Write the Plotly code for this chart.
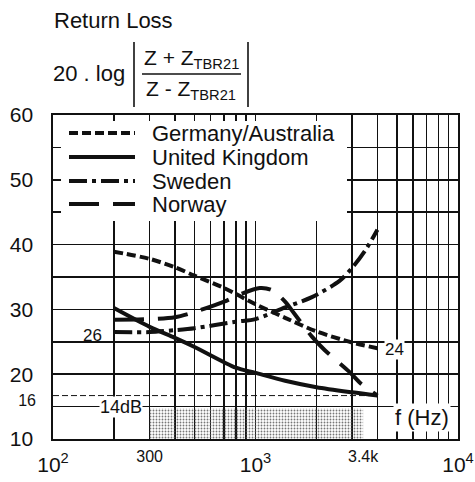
import plotly.graph_objects as go

# ---------------- data ----------------
ger_f = [200, 300, 400, 500, 700, 1000, 1400, 2000, 3000, 4000]
ger_rl = [38.9, 37.8, 36.5, 35.2, 33.3, 30.8, 28.7, 26.6, 24.9, 24.0]

uk_f = [200, 300, 400, 500, 800, 1000, 1400, 2000, 3000, 4000]
uk_rl = [30.2, 27.3, 25.6, 24.2, 21.0, 20.2, 19.0, 18.0, 17.2, 16.7]

swe_f = [200, 300, 400, 500, 800, 1000, 1400, 1900, 2600, 3000, 3500, 4000]
swe_rl = [26.5, 26.5, 26.8, 27.1, 28.1, 28.5, 30.3, 31.9, 34.4, 36.4, 39.2, 42.3]

nor_f = [200, 300, 400, 500, 700, 850, 1050, 1200, 1400, 1550, 1900, 2200, 2900, 3300, 4000]
nor_rl = [28.4, 28.5, 28.8, 29.6, 31.2, 32.4, 33.3, 33.0, 31.2, 29.4, 25.8, 23.7, 20.4, 18.6, 16.7]

band_f = [300, 3400]          # telephone band (shaded)
band_rl = [10, 14.7]
ref_f = [100, 4000]           # dashed reference level
ref_rl = 16.7

x_major = [100, 1000, 10000]
x_major_text = ["10<sup>2</sup>", "10<sup>3</sup>", "10<sup>4</sup>"]
x_minor = [200, 300, 400, 500, 600, 700, 800, 900, 2000, 3000, 4000, 5000, 6000, 7000, 8000, 9000]
x_extra = [300, 3400]
x_extra_text = ["300", "3.4k"]
y_major = [10, 20, 30, 40, 50, 60]
y_minor = [15, 25, 35, 45, 55]
y_extra = [16]
y_extra_text = ["16"]

legend_names = ["Germany/Australia", "United Kingdom", "Sweden", "Norway"]

# ---------------- styles ----------------
FONT = "Liberation Sans, Arial, sans-serif"
BLK = "#111111"
W = 4
dashes = ["9px,4px", "solid", "18px,5px,4px,5px", "30px,14px"]

fig = go.Figure()

# shaded band
fig.add_trace(go.Scatter(
    x=[band_f[0], band_f[1], band_f[1], band_f[0], band_f[0]],
    y=[band_rl[0], band_rl[0], band_rl[1], band_rl[1], band_rl[0]],
    mode="lines", line=dict(width=0), fill="toself",
    fillcolor="rgba(0,0,0,0)",
    fillpattern=dict(shape=".", size=3, solidity=0.3, fgcolor="#555555",
                     fgopacity=0.8, bgcolor="rgba(0,0,0,0)"),
    hoverinfo="skip", showlegend=False))

# dashed reference line (bound to overlay axes)
fig.add_trace(go.Scatter(x=ref_f, y=[ref_rl, ref_rl], mode="lines",
                         line=dict(color=BLK, width=1, dash="6px,3px"),
                         xaxis="x2", yaxis="y2", showlegend=False, hoverinfo="skip"))

series = [(ger_f, ger_rl), (uk_f, uk_rl), (swe_f, swe_rl), (nor_f, nor_rl)]
for (f, rl), name, d in zip(series, legend_names, dashes):
    fig.add_trace(go.Scatter(x=f, y=rl, mode="lines", name=name,
                             line=dict(color=BLK, width=W, dash=d, shape="spline", smoothing=0.8),
                             showlegend=False))

L, R, T, B = 53, 17, 115, 43
PW, PH = 475 - L - R, 482 - T - B


def px(xp):
    return (xp - L) / PW


def py(yp):
    return (482 - B - yp) / PH


shapes = []
# white legend box covering grid
shapes.append(dict(type="rect", xref="paper", yref="paper",
                   x0=px(61), x1=px(347), y0=py(221), y1=py(121),
                   fillcolor="white", line=dict(width=0), layer="above"))
# legend line samples
rows = [133, 157, 181, 204]
annotations = []
for yrow, name, d in zip(rows, legend_names, dashes):
    shapes.append(dict(type="line", xref="paper", yref="paper",
                       x0=px(69), x1=px(135), y0=py(yrow), y1=py(yrow),
                       line=dict(color=BLK, width=W, dash=d), layer="above"))
    annotations.append(dict(text=name, xref="paper", yref="paper", x=px(150), y=py(yrow),
                            xanchor="left", yanchor="middle", showarrow=False,
                            font=dict(size=22, color=BLK, family=FONT)))

# formula bars
shapes += [
    dict(type="line", xref="paper", yref="paper", x0=px(134), x1=px(134), y0=py(42), y1=py(107),
         line=dict(color=BLK, width=1.6)),
    dict(type="line", xref="paper", yref="paper", x0=px(248), x1=px(248), y0=py(42), y1=py(107),
         line=dict(color=BLK, width=1.6)),
    dict(type="line", xref="paper", yref="paper", x0=px(142), x1=px(241), y0=py(74), y1=py(74),
         line=dict(color=BLK, width=1.6)),
]

annotations += [
    dict(text="Return Loss", xref="paper", yref="paper", x=px(52), y=py(20),
         xanchor="left", yanchor="middle", showarrow=False, font=dict(size=22, color=BLK, family=FONT)),
    dict(text="20 . log", xref="paper", yref="paper", x=px(51), y=py(73),
         xanchor="left", yanchor="middle", showarrow=False, font=dict(size=22, color=BLK, family=FONT)),
    dict(text="Z + Z<sub>TBR21</sub>", xref="paper", yref="paper", x=px(191), y=py(59),
         xanchor="center", yanchor="middle", showarrow=False, font=dict(size=21, color=BLK, family=FONT)),
    dict(text="Z - Z<sub>TBR21</sub>", xref="paper", yref="paper", x=px(191), y=py(90),
         xanchor="center", yanchor="middle", showarrow=False, font=dict(size=21, color=BLK, family=FONT)),
    dict(text="26", xref="paper", yref="y", x=px(92), y=26, xanchor="center", yanchor="middle",
         showarrow=False, font=dict(size=17, color=BLK, family=FONT)),
    dict(text="24", xref="paper", yref="y", x=px(394), y=23.8, xanchor="center", yanchor="middle",
         showarrow=False, bgcolor="white", borderpad=0, font=dict(size=17, color=BLK, family=FONT)),
    dict(text="14dB", xref="paper", yref="y", x=px(121), y=15, xanchor="center", yanchor="middle",
         showarrow=False, bgcolor="white", borderpad=0, font=dict(size=18, color=BLK, family=FONT)),
    dict(text="f (Hz)", xref="paper", yref="y", x=px(422), y=13.3, xanchor="center", yanchor="middle",
         showarrow=False, bgcolor="white", borderpad=1, font=dict(size=22, color=BLK, family=FONT)),
]

axis_common = dict(showline=True, linecolor=BLK, linewidth=1.6, mirror=True, ticks="",
                   gridcolor=BLK, gridwidth=1.5, zeroline=False, automargin=False)

fig.update_layout(
    width=475, height=482,
    margin=dict(l=L, r=R, t=T, b=B, autoexpand=False),
    paper_bgcolor="white", plot_bgcolor="white",
    font=dict(family=FONT, color=BLK),
    showlegend=False,
    xaxis=dict(type="log", range=[2, 4], tickmode="array", tickvals=x_major, ticktext=x_major_text,
               showgrid=True, tickfont=dict(size=21, family=FONT, color=BLK), ticklabelstandoff=6,
               minor=dict(tickmode="array", tickvals=x_minor, showgrid=True, gridcolor=BLK,
                          gridwidth=1.5, ticks=""),
               **axis_common),
    yaxis=dict(range=[10, 60], tickmode="array", tickvals=y_major, showgrid=True,
               tickfont=dict(size=21, family=FONT, color=BLK), ticklabelstandoff=14,
               minor=dict(tickmode="array", tickvals=y_minor, showgrid=True, gridcolor=BLK,
                          gridwidth=1.5, ticks=""),
               **axis_common),
    xaxis2=dict(type="log", range=[2, 4], overlaying="x", anchor="y", side="bottom",
                tickmode="array", tickvals=x_extra, ticktext=x_extra_text, showgrid=False,
                showline=False, ticks="", zeroline=False, ticklabelstandoff=6, automargin=False,
                tickfont=dict(size=16, family=FONT, color=BLK)),
    yaxis2=dict(range=[10, 60], overlaying="y", anchor="x", side="left",
                tickmode="array", tickvals=y_extra, ticktext=y_extra_text, showgrid=False,
                showline=False, ticks="", zeroline=False, ticklabelstandoff=16, automargin=False,
                tickfont=dict(size=16, family=FONT, color=BLK)),
    shapes=shapes,
    annotations=annotations,
)

fig.write_html("out.html", config={"displayModeBar": False, "staticPlot": True},
               post_script="document.body.style.margin='0';document.body.style.padding='0';")
